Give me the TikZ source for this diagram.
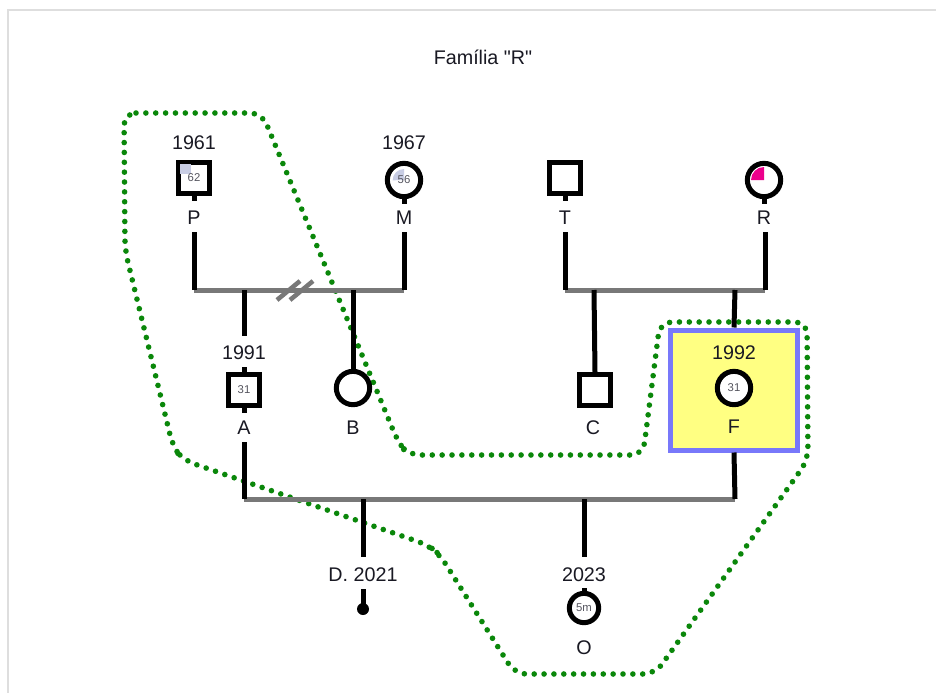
\documentclass[tikz,border=0pt]{standalone}
\usepackage{fontspec}
\setmainfont{Liberation Sans}
\newfontfamily\plainfont{Liberation Sans}
\definecolor{txt}{RGB}{25,25,35}
\definecolor{relgray}{RGB}{120,120,120}
\definecolor{grpgreen}{RGB}{10,135,10}
\definecolor{hlyellow}{RGB}{255,255,130}
\definecolor{hlblue}{RGB}{120,120,250}
\definecolor{agegray}{RGB}{85,85,95}
\definecolor{agefill}{RGB}{200,205,228}
\definecolor{framegray}{RGB}{222,222,222}
\begin{document}
\begin{tikzpicture}[x=0.75pt,y=-0.75pt,
  lbl/.style={text=txt,font=\plainfont\fontsize{14.8}{16}\selectfont,inner sep=1pt},
  agetxt/.style={font=\fontsize{8.5}{9}\selectfont,text=agegray},
  male/.style={draw=black,line width=3.75pt,minimum size=23pt,inner sep=0pt,fill=white,agetxt},
  female/.style={circle,draw=black,line width=3.75pt,minimum size=25pt,inner sep=0pt,fill=white,agetxt},
  ln/.style={draw=black,line width=3.75pt},
  rel/.style={draw=relgray,line width=3.75pt},
  grp/.style={draw=grpgreen,line width=4.2pt,line cap=round,dash pattern=on 0pt off 7.4pt,rounded corners=9pt},
  hl/.style={draw=hlblue,fill=hlyellow,line width=3.75pt,minimum width=95pt,minimum height=90pt}
]
\useasboundingbox (0,0) rectangle (936,693);
\fill[white] (0,0) rectangle (936,693);
\draw[framegray,line width=1.5pt] (7.5,693) -- (7.5,10) -- (936,10);

% title
\node[lbl] (title) at (483,57) {Família "R"};

% highlight box behind F
\node[hl] (Fbox) at (734,390) {};

% group outline
\draw[grp] (124,113) -- (262,113) -- (398,442) -- (408,455) -- (643,455)
  -- (660,322) -- (807,322) -- (808,460) -- (655,674) -- (515,674)
  -- (440,555) -- (428,545) -- (183,460) -- (173,447) -- (125,250) -- cycle;

% generation 1
\node[lbl] (Pyr) at (194,143) {1961};
\node[male] (P) at (194,178) {};
\fill[agefill] ([shift={(3pt,-3pt)}]P.north west) rectangle ++(8pt,-7pt);
\node[agetxt] (Page) at (P.center) {62};
\node[lbl] (Plbl) at (194,218) {P};

\node[lbl] (Myr) at (404,143) {1967};
\node[female] (M) at (404,180) {};
\fill[agefill] (M.center) -- ++(0,-11) arc[start angle=90,end angle=180,radius=8.5pt] -- cycle;
\node[agetxt] (Mage) at (M.center) {56};
\node[lbl] (Mlbl) at (404,218) {M};

\node[male] (T) at (565,178) {};
\node[lbl] (Tlbl) at (565,218) {T};

\node[female] (R) at (764,180) {};
\fill[magenta] (R.center) -- ++(0,-13) arc[start angle=90,end angle=180,radius=9.75pt] -- cycle;
\node[lbl] (Rlbl) at (764,218) {R};

% stubs
\draw[ln] (P.south) -- ++(0,5);
\draw[ln] (M.south) -- ++(0,5);
\draw[ln] (T.south) -- ++(0,5);
\draw[ln] (R.south) -- ++(0,5);

% couple P-M (divorced)
\coordinate (pmL) at (194,290);
\coordinate (pmR) at (404,290);
\coordinate (pmA) at (244,290);
\coordinate (pmB) at (353,290);
\draw[rel] (pmL) -- (pmR);
\draw[relgray,line width=3.4pt] (277,300) -- (300,281);
\draw[relgray,line width=3.4pt] (290,300) -- (313,281);
\draw[ln] (194,232) -- (pmL);
\draw[ln] (404,232) -- (pmR);

% couple T-R
\coordinate (trL) at (565,290);
\coordinate (trR) at (765,290);
\coordinate (trC) at (594,290);
\coordinate (trF) at (735,290);
\draw[rel] (trL) -- (trR);
\draw[ln] (565,232) -- (trL);
\draw[ln] (765,232) -- (trR);

% generation 2
\node[lbl] (Ayr) at (244,353) {1991};
\node[male] (A) at (244,390) {31};
\node[lbl] (Albl) at (244,428) {A};
\draw[ln] (pmA) -- (244,336);
\draw[ln] (A.north) -- ++(0,-5);
\draw[ln] (A.south) -- ++(0,5);

\node[female] (B) at (353,388) {};
\node[lbl] (Blbl) at (353,428) {B};
\draw[ln] (pmB) -- (B.north);

\node[male] (C) at (595,390) {};
\node[lbl] (Clbl) at (593,428) {C};
\draw[ln] (trC) -- (C.north);

\draw[ln] (trF) -- (Fbox.north);
\node[lbl] (Fyr) at (734,353) {1992};
\node[female] (F) at (734,388) {31};
\node[lbl] (Flbl) at (734,427) {F};

% couple A-F
\coordinate (afL) at (244,499);
\coordinate (afR) at (735,499);
\coordinate (afD) at (363,499);
\coordinate (afO) at (584,499);
\draw[rel] (afL) -- (afR);
\draw[ln] (244,442) -- (afL);
\draw[ln] (Fbox.south) -- (afR);

% generation 3
\node[lbl] (Dyr) at (363,575) {D. 2021};
\draw[ln] (afD) -- (363,557);
\node[circle,fill=black,minimum size=9pt,inner sep=0pt] (D) at (363,609) {};
\draw[ln] (363,589) -- (D.center);

\node[lbl] (Oyr) at (584,575) {2023};
\draw[ln] (afO) -- (584,557);
\node[female,minimum size=22pt] (O) at (584,608) {5m};
\draw[ln] (O.north) -- ++(0,-3);
\node[lbl] (Olbl) at (584,648) {O};
\end{tikzpicture}
\end{document}
